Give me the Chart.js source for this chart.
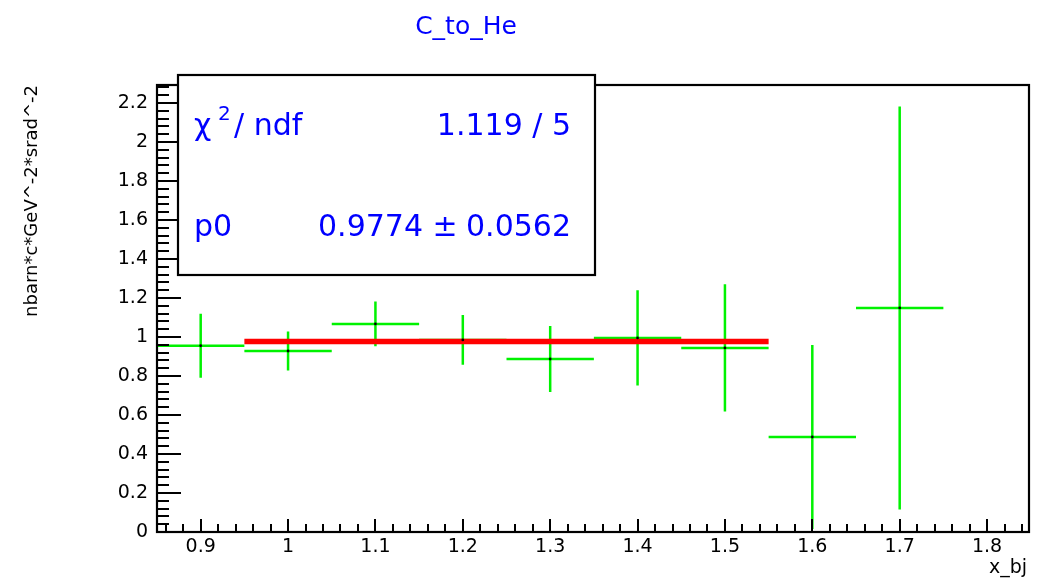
<!DOCTYPE html>
<html>
<head>
<meta charset="utf-8">
<script src="https://cdn.jsdelivr.net/npm/chart.js@4"></script>
<style>
  body { margin: 0; background: #fff; }
</style>
</head>
<body>
<canvas id="chart" width="1040" height="581"></canvas>
<script>
// bin centres (x_bj) and ratio values
const xBins = [0.9, 1.0, 1.1, 1.2, 1.3, 1.4, 1.5, 1.6, 1.7];
const ratio = [0.955, 0.928, 1.067, 0.985, 0.887, 0.995, 0.944, 0.487, 1.149];
const ratioErr = [0.164, 0.100, 0.115, 0.128, 0.169, 0.244, 0.326, 0.472, 1.033];
const binHalfWidth = 0.05;

// constant fit p0
const fitRange = [0.95, 1.55];
const fitP0 = 0.9774;

const xTicks = [0.9, 1.0, 1.1, 1.2, 1.3, 1.4, 1.5, 1.6, 1.7, 1.8];
const yTicks = [0, 0.2, 0.4, 0.6, 0.8, 1.0, 1.2, 1.4, 1.6, 1.8, 2.0, 2.2];

const FONT = '"DejaVu Sans", sans-serif';

const rootStyle = {
  id: 'rootStyle',
  beforeDraw(chart) {
    const c = chart.ctx;
    c.save();
    c.fillStyle = '#ffffff';
    c.fillRect(0, 0, chart.width, chart.height);
    c.restore();
  },
  beforeDatasetsDraw(chart) {
    // green error crosses
    const c = chart.ctx;
    const xs = chart.scales.x, ys = chart.scales.y;
    const a = chart.chartArea;
    c.save();
    c.beginPath();
    c.rect(a.left, a.top, a.right - a.left, a.bottom - a.top);
    c.clip();
    c.strokeStyle = '#00f200';
    c.lineWidth = 2.5;
    xBins.forEach((x, i) => {
      const px = xs.getPixelForValue(x);
      const py = ys.getPixelForValue(ratio[i]);
      c.beginPath();
      c.moveTo(xs.getPixelForValue(x - binHalfWidth), py);
      c.lineTo(xs.getPixelForValue(x + binHalfWidth), py);
      c.moveTo(px, ys.getPixelForValue(ratio[i] + ratioErr[i]));
      c.lineTo(px, ys.getPixelForValue(ratio[i] - ratioErr[i]));
      c.stroke();
    });
    c.restore();
  },
  afterDraw(chart) {
    const c = chart.ctx;
    const xs = chart.scales.x, ys = chart.scales.y;
    const a = chart.chartArea;
    c.save();
    c.strokeStyle = '#000';
    c.lineWidth = 2;

    // x ticks (major 0.1, minor 0.02), inside the frame
    c.beginPath();
    for (let k = 43; k <= 92; k++) {
      const v = k * 0.02;
      const px = Math.round(xs.getPixelForValue(v));
      const len = (k % 5 === 0) ? 13 : 8;
      c.moveTo(px, a.bottom);
      c.lineTo(px, a.bottom - len);
    }
    // y ticks (major 0.2, minor 0.04)
    for (let k = 0; k <= 57; k++) {
      const v = k * 0.04;
      const py = Math.round(ys.getPixelForValue(v));
      const len = (k % 5 === 0) ? 24 : 12;
      c.moveTo(a.left, py);
      c.lineTo(a.left + len, py);
    }
    c.stroke();

    // frame
    c.lineWidth = 2.2;
    c.strokeRect(a.left, a.top, a.right - a.left, a.bottom - a.top);

    // title
    c.fillStyle = '#0000ff';
    c.font = '25px ' + FONT;
    c.textAlign = 'center';
    c.textBaseline = 'alphabetic';
    c.fillText('C_to_He', 466, 34);

    // axis titles
    c.fillStyle = '#000';
    c.font = '19px ' + FONT;
    c.textAlign = 'right';
    c.fillText('x_bj', 1027, 573);

    c.save();
    c.translate(37, a.top);
    c.rotate(-Math.PI / 2);
    c.font = '18px ' + FONT;
    c.textAlign = 'right';
    c.fillText('nbarn*c*GeV^-2*srad^-2', 0, 0);
    c.restore();

    // stats box
    c.fillStyle = '#fff';
    c.fillRect(178, 75, 417, 200);
    c.strokeStyle = '#000';
    c.lineWidth = 2.2;
    c.strokeRect(178, 75, 417, 200);

    c.fillStyle = '#0000ff';
    c.font = '30px ' + FONT;
    c.textAlign = 'left';
    c.fillText('\u03c7', 194, 135);
    c.font = '20px ' + FONT;
    c.fillText('2', 218, 120);
    c.font = '30px ' + FONT;
    c.fillText('/ ndf', 234, 135);
    c.fillText('p0', 194, 236);
    c.textAlign = 'right';
    c.fillText('1.119 / 5', 571, 135);
    c.fillText('0.0562', 571, 236);
    c.fillText('0.9774', 423, 236);
    c.textAlign = 'center';
    c.fillText('\u00b1', 445, 236);
    c.restore();
  }
};

const ctx = document.getElementById('chart').getContext('2d');

new Chart(ctx, {
  type: 'scatter',
  data: {
    datasets: [{
      label: 'C_to_He',
      data: xBins.map((x, i) => ({ x: x, y: ratio[i] })),
      pointRadius: 1.4,
      pointBackgroundColor: '#000',
      pointBorderWidth: 0,
      showLine: false,
      order: 0
    }, {
      label: 'fit',
      type: 'line',
      data: fitRange.map(x => ({ x: x, y: fitP0 })),
      borderColor: '#ff0000',
      borderWidth: 5.5,
      pointRadius: 0,
      fill: false,
      order: 1
    }]
  },
  options: {
    responsive: false,
    animation: false,
    layout: {
      padding: { left: 0, top: 85, right: 11, bottom: 0 }
    },
    plugins: {
      legend: { display: false },
      title: { display: false },
      tooltip: { enabled: false }
    },
    scales: {
      x: {
        type: 'linear',
        min: 0.85,
        max: 1.848,
        afterBuildTicks: s => { s.ticks = xTicks.map(v => ({ value: v })); },
        afterFit: s => { s.height = 49; },
        grid: { display: false, drawTicks: false },
        border: { display: false },
        ticks: {
          color: '#000',
          padding: 4,
          maxRotation: 0,
          autoSkip: false,
          font: { family: FONT, size: 19 },
          callback: v => String(+v.toFixed(2))
        }
      },
      y: {
        type: 'linear',
        min: 0,
        max: 2.292,
        afterBuildTicks: s => { s.ticks = yTicks.map(v => ({ value: v })); },
        afterFit: s => { s.width = 157; },
        grid: { display: false, drawTicks: false },
        border: { display: false },
        ticks: {
          color: '#000',
          padding: 9,
          autoSkip: false,
          font: { family: FONT, size: 19 },
          callback: v => String(+v.toFixed(2))
        }
      }
    }
  },
  plugins: [rootStyle]
});
</script>
</body>
</html>
